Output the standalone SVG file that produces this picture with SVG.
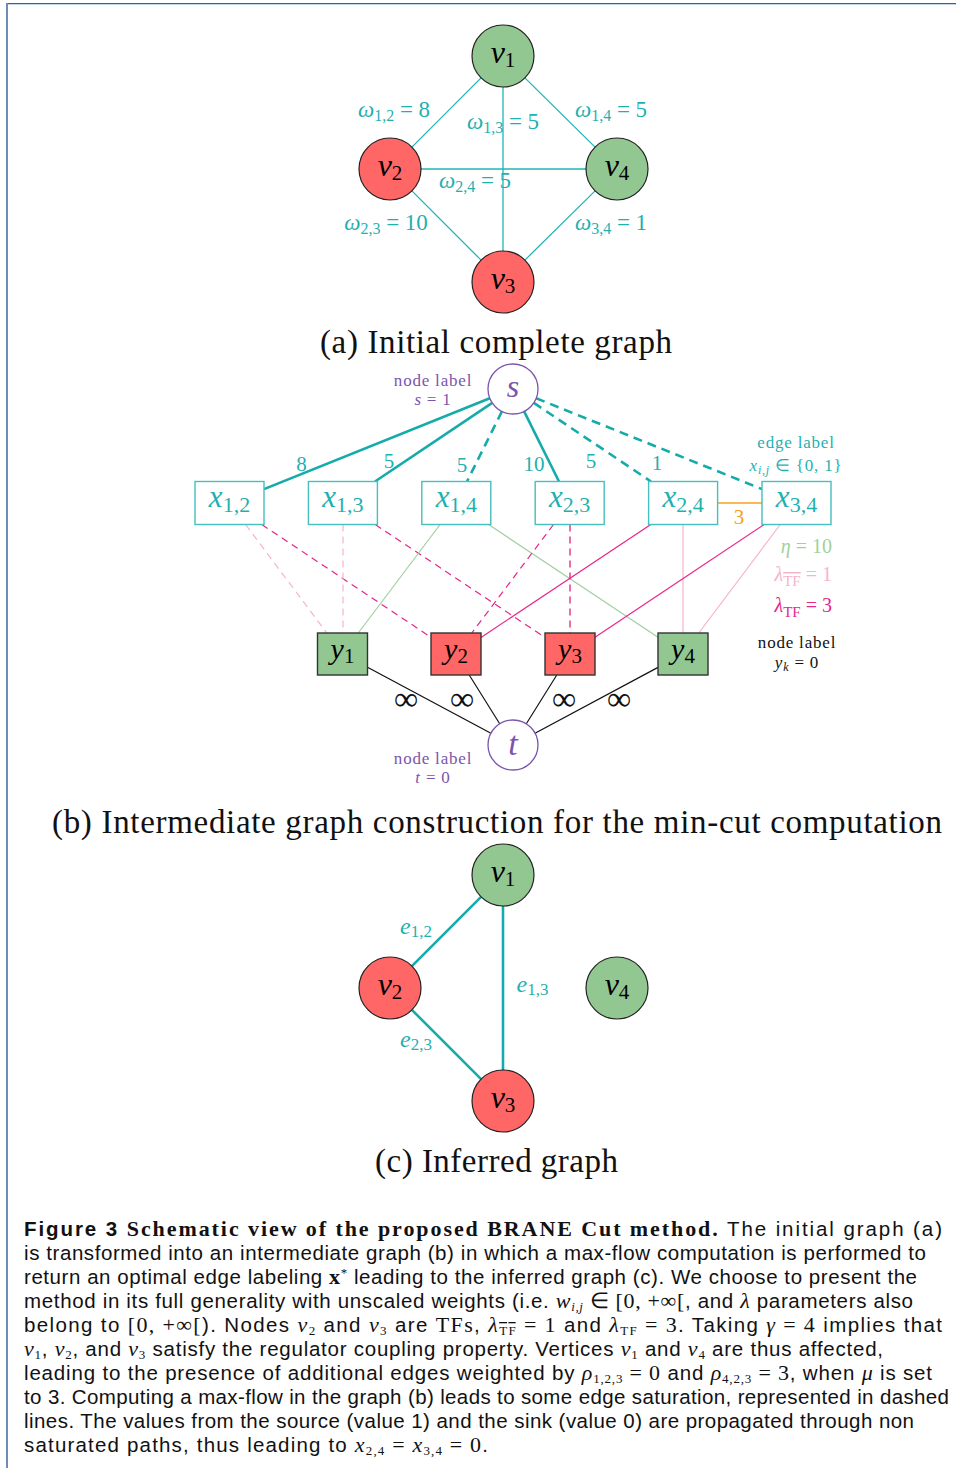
<svg xmlns="http://www.w3.org/2000/svg" width="956" height="1468" viewBox="0 0 956 1468">
<defs>
<style>
.m{font-family:"Liberation Serif","Times New Roman",serif;font-style:italic}
.r{font-family:"Liberation Serif","Times New Roman",serif;font-style:normal}
.up{font-style:normal}
.teal{fill:#1fb0b0}
.pur{fill:#7a55ad}
.gn{fill:#92c792;stroke:#222;stroke-width:1.2}
.rn{fill:#ff6666;stroke:#222;stroke-width:1.2}
.xb{fill:#fff;stroke:#45bfbf;stroke-width:1.4}
.gb{fill:#92c792;stroke:#333;stroke-width:1.4}
.rb{fill:#ff6666;stroke:#333;stroke-width:1.4}
.st{fill:#fff;stroke:#7a55ad;stroke-width:1.3}
.ea{stroke:#1fb5b5;stroke-width:1.3;fill:none}
.ec{stroke:#16abab;stroke-width:2.6;fill:none}
.sd{stroke-dasharray:9 6}
.dd{stroke-dasharray:7 5}
.lp{stroke:#f7b3cb;stroke-width:1.2;fill:none}
.mg{stroke:#e8248a;stroke-width:1.2;fill:none}
.lg{stroke:#9fd09f;stroke-width:1.2;fill:none}
.bk{stroke:#111;stroke-width:1.2;fill:none}
.cap{font-family:"Liberation Sans",Arial,sans-serif;font-size:20.5px;fill:#111}
.ttl{font-family:"Liberation Serif","Times New Roman",serif;font-size:33px;fill:#111}
.lab{font-size:17px;letter-spacing:0.8px}
.sb{font-size:13px}
</style>
</defs>
<rect width="956" height="1468" fill="#fff"/>
<line x1="6" y1="3.5" x2="956" y2="3.5" stroke="#3b5f8c" stroke-width="1"/>
<line x1="8" y1="4.6" x2="956" y2="4.6" stroke="#c0d2e6" stroke-width="1"/>
<rect x="6" y="3" width="2" height="1465" fill="#6f8db4"/>

<!-- (a) connectors -->
<g id="a-edges">
<line class="ea" x1="481.1" y1="77.9" x2="411.9" y2="147.1"/>
<line class="ea" x1="503" y1="87" x2="503" y2="251"/>
<line class="ea" x1="524.9" y1="77.9" x2="595.1" y2="147.1"/>
<line class="ea" x1="421" y1="169" x2="586" y2="169"/>
<line class="ea" x1="411.9" y1="190.9" x2="481.1" y2="260.1"/>
<line class="ea" x1="524.9" y1="260.1" x2="595.1" y2="190.9"/>
</g>
<g id="a-edge-labels" class="m teal" font-size="23" text-anchor="middle">
<text x="394" y="117">ω<tspan class="up" font-size="16" dy="4">1,2</tspan><tspan class="up" dy="-4"> = 8</tspan></text>
<text x="503" y="129">ω<tspan class="up" font-size="16" dy="4">1,3</tspan><tspan class="up" dy="-4"> = 5</tspan></text>
<text x="611" y="117">ω<tspan class="up" font-size="16" dy="4">1,4</tspan><tspan class="up" dy="-4"> = 5</tspan></text>
<text x="475" y="188">ω<tspan class="up" font-size="16" dy="4">2,4</tspan><tspan class="up" dy="-4"> = 5</tspan></text>
<text x="386" y="230">ω<tspan class="up" font-size="16" dy="4">2,3</tspan><tspan class="up" dy="-4"> = 10</tspan></text>
<text x="611" y="230">ω<tspan class="up" font-size="16" dy="4">3,4</tspan><tspan class="up" dy="-4"> = 1</tspan></text>
</g>
<g id="a-v1"><circle class="gn" cx="503" cy="56" r="31"/><text class="m" x="503" y="63" font-size="32" text-anchor="middle">v<tspan class="up" font-size="21" dy="4">1</tspan></text></g>
<g id="a-v2"><circle class="rn" cx="390" cy="169" r="31"/><text class="m" x="390" y="176" font-size="32" text-anchor="middle">v<tspan class="up" font-size="21" dy="4">2</tspan></text></g>
<g id="a-v3"><circle class="rn" cx="503" cy="282" r="31"/><text class="m" x="503" y="289" font-size="32" text-anchor="middle">v<tspan class="up" font-size="21" dy="4">3</tspan></text></g>
<g id="a-v4"><circle class="gn" cx="617" cy="169" r="31"/><text class="m" x="617" y="176" font-size="32" text-anchor="middle">v<tspan class="up" font-size="21" dy="4">4</tspan></text></g>
<text class="ttl" x="496" y="353" text-anchor="middle" textLength="352">(a) Initial complete graph</text>

<!-- (b) connectors -->
<g id="b-edges">
<line class="ec" x1="489.8" y1="398.3" x2="264" y2="489.1"/>
<line class="ec" x1="492.2" y1="402.9" x2="375" y2="481.5"/>
<line class="ec sd" x1="501.9" y1="411.4" x2="467" y2="481.5"/>
<line class="ec" x1="524.1" y1="411.4" x2="559" y2="481.5"/>
<line class="ec sd" x1="533.8" y1="402.9" x2="651" y2="481.5"/>
<line class="ec sd" x1="536.2" y1="398.3" x2="762" y2="489.1"/>
<line x1="717.6" y1="503" x2="762" y2="503" stroke="#f7a21b" stroke-width="1.5"/>
<line class="lp dd" x1="245.6" y1="524.5" x2="326.8" y2="633"/>
<line class="mg dd" x1="261.8" y1="524.5" x2="431" y2="637.3"/>
<line class="lp dd" x1="343" y1="524.5" x2="343" y2="633"/>
<line class="mg dd" x1="375.2" y1="524.5" x2="545" y2="637.4"/>
<line class="lg" x1="440.1" y1="524.5" x2="358.3" y2="633"/>
<line class="lg" x1="488.6" y1="524.5" x2="658" y2="637.3"/>
<line class="mg dd" x1="553.5" y1="524.5" x2="471.8" y2="633"/>
<line class="dd" x1="570" y1="524.5" x2="570" y2="633" stroke="#ee5ca0" stroke-width="1.8"/>
<line class="mg" x1="650.8" y1="524.5" x2="481" y2="637.4"/>
<line class="lp" x1="683" y1="524.5" x2="683" y2="633"/>
<line class="mg" x1="764.2" y1="524.5" x2="595" y2="637.3"/>
<line class="lp" x1="780.3" y1="524.5" x2="698.8" y2="633"/>
<line class="bk" x1="367.5" y1="667.3" x2="490.9" y2="733.2"/>
<line class="bk" x1="469.2" y1="675" x2="499.7" y2="723.8"/>
<line class="bk" x1="556.8" y1="675" x2="526.3" y2="723.8"/>
<line class="bk" x1="658" y1="667.4" x2="535" y2="733.2"/>
</g>
<g id="b-edge-labels" class="r" font-size="21" text-anchor="middle">
<text class="teal" x="301.5" y="470.5">8</text>
<text class="teal" x="389" y="468">5</text>
<text class="teal" x="462" y="472">5</text>
<text class="teal" x="534" y="471">10</text>
<text class="teal" x="591" y="468">5</text>
<text class="teal" x="657" y="470">1</text>
<text x="739" y="524" fill="#f7a21b">3</text>
<text x="406" y="710" font-size="34" fill="#111">∞</text>
<text x="462" y="710" font-size="34" fill="#111">∞</text>
<text x="564" y="710" font-size="34" fill="#111">∞</text>
<text x="619" y="710" font-size="34" fill="#111">∞</text>
</g>
<g id="b-s"><circle class="st" cx="513" cy="389" r="25"/><text class="m pur" x="513" y="397" font-size="32" text-anchor="middle">s</text></g>
<g id="b-s-label" class="r pur lab" text-anchor="middle"><text x="433" y="386">node label</text><text x="433" y="405"><tspan class="m">s</tspan> = 1</text></g>
<g id="b-x12"><rect class="xb" x="195" y="481.5" width="69" height="43"/><text class="m teal" x="229.5" y="507" font-size="31" text-anchor="middle">x<tspan class="up" font-size="22" dy="5">1,2</tspan></text></g>
<g id="b-x13"><rect class="xb" x="308.4" y="481.5" width="69" height="43"/><text class="m teal" x="342.9" y="507" font-size="31" text-anchor="middle">x<tspan class="up" font-size="22" dy="5">1,3</tspan></text></g>
<g id="b-x14"><rect class="xb" x="421.8" y="481.5" width="69" height="43"/><text class="m teal" x="456.3" y="507" font-size="31" text-anchor="middle">x<tspan class="up" font-size="22" dy="5">1,4</tspan></text></g>
<g id="b-x23"><rect class="xb" x="535.2" y="481.5" width="69" height="43"/><text class="m teal" x="569.7" y="507" font-size="31" text-anchor="middle">x<tspan class="up" font-size="22" dy="5">2,3</tspan></text></g>
<g id="b-x24"><rect class="xb" x="648.6" y="481.5" width="69" height="43"/><text class="m teal" x="683.1" y="507" font-size="31" text-anchor="middle">x<tspan class="up" font-size="22" dy="5">2,4</tspan></text></g>
<g id="b-x34"><rect class="xb" x="762" y="481.5" width="69" height="43"/><text class="m teal" x="796.5" y="507" font-size="31" text-anchor="middle">x<tspan class="up" font-size="22" dy="5">3,4</tspan></text></g>
<g id="b-edge-legend" class="r teal lab" text-anchor="middle"><text x="796" y="448">edge label</text><text x="796" y="471"><tspan class="m">x</tspan><tspan class="m" font-size="12" dy="3">i,j</tspan><tspan dy="-3"> ∈ {0, 1}</tspan></text></g>
<g id="b-weights-legend" class="r" font-size="20" text-anchor="end">
<text x="832" y="553" fill="#9fd09f"><tspan class="m">η</tspan> = 10</text>
<text x="832" y="581" fill="#f7b3cb"><tspan class="m">λ</tspan><tspan font-size="15" dy="5" text-decoration="overline">TF</tspan><tspan dy="-5"> = 1</tspan></text>
<text x="832" y="612" fill="#e8248a"><tspan class="m">λ</tspan><tspan font-size="15" dy="5">TF</tspan><tspan dy="-5"> = 3</tspan></text>
</g>
<g id="b-y1"><rect class="gb" x="317.5" y="633" width="50" height="42"/><text class="m" x="342.5" y="659" font-size="30" text-anchor="middle">y<tspan class="up" font-size="21" dy="4">1</tspan></text></g>
<g id="b-y2"><rect class="rb" x="431" y="633" width="50" height="42"/><text class="m" x="456" y="659" font-size="30" text-anchor="middle">y<tspan class="up" font-size="21" dy="4">2</tspan></text></g>
<g id="b-y3"><rect class="rb" x="545" y="633" width="50" height="42"/><text class="m" x="570" y="659" font-size="30" text-anchor="middle">y<tspan class="up" font-size="21" dy="4">3</tspan></text></g>
<g id="b-y4"><rect class="gb" x="658" y="633" width="50" height="42"/><text class="m" x="683" y="659" font-size="30" text-anchor="middle">y<tspan class="up" font-size="21" dy="4">4</tspan></text></g>
<g id="b-y-legend" class="r lab" text-anchor="middle" fill="#111"><text x="797" y="648">node label</text><text x="797" y="668"><tspan class="m">y</tspan><tspan class="m" font-size="12" dy="3">k</tspan><tspan dy="-3"> = 0</tspan></text></g>
<g id="b-t"><circle class="st" cx="513" cy="745" r="25"/><text class="m pur" x="513" y="755" font-size="34" text-anchor="middle">t</text></g>
<g id="b-t-label" class="r pur lab" text-anchor="middle"><text x="433" y="764">node label</text><text x="433" y="783"><tspan class="m">t</tspan> = 0</text></g>
<text class="ttl" x="497" y="833" text-anchor="middle" textLength="890">(b) Intermediate graph construction for the min-cut computation</text>

<!-- (c) connectors -->
<g id="c-edges">
<line class="ec" x1="481.1" y1="896.9" x2="411.9" y2="966.1"/>
<line class="ec" x1="503" y1="906" x2="503" y2="1070"/>
<line class="ec" x1="411.9" y1="1009.9" x2="481.1" y2="1079.1"/>
</g>
<g id="c-edge-labels" class="m teal" font-size="24" text-anchor="middle">
<text x="416" y="934">e<tspan class="up" font-size="17" dy="3">1,2</tspan></text>
<text x="532.5" y="992">e<tspan class="up" font-size="17" dy="3">1,3</tspan></text>
<text x="416" y="1047">e<tspan class="up" font-size="17" dy="3">2,3</tspan></text>
</g>
<g id="c-v1"><circle class="gn" cx="503" cy="875" r="31"/><text class="m" x="503" y="882" font-size="32" text-anchor="middle">v<tspan class="up" font-size="21" dy="4">1</tspan></text></g>
<g id="c-v2"><circle class="rn" cx="390" cy="988" r="31"/><text class="m" x="390" y="995" font-size="32" text-anchor="middle">v<tspan class="up" font-size="21" dy="4">2</tspan></text></g>
<g id="c-v3"><circle class="rn" cx="503" cy="1101" r="31"/><text class="m" x="503" y="1108" font-size="32" text-anchor="middle">v<tspan class="up" font-size="21" dy="4">3</tspan></text></g>
<g id="c-v4"><circle class="gn" cx="617" cy="988" r="31"/><text class="m" x="617" y="995" font-size="32" text-anchor="middle">v<tspan class="up" font-size="21" dy="4">4</tspan></text></g>
<text class="ttl" x="496.5" y="1172" text-anchor="middle" textLength="243">(c) Inferred graph</text>

<!-- caption -->
<g id="caption" class="cap">
<text x="24" y="1236" textLength="918"><tspan font-weight="bold">Figure 3 </tspan><tspan class="r" font-weight="bold" font-size="22">Schematic view of the proposed BRANE Cut method.</tspan> The initial graph (a)</text>
<text x="24" y="1260" textLength="902">is transformed into an intermediate graph (b) in which a max-flow computation is performed to</text>
<text x="24" y="1284" textLength="893">return an optimal edge labeling <tspan class="r" font-weight="bold" font-size="22">x</tspan><tspan class="r sb" dy="-7">*</tspan><tspan dy="7"> leading to the inferred graph (c). We choose to present the</tspan></text>
<text x="24" y="1308" textLength="889">method in its full generality with unscaled weights (i.e. <tspan class="m" font-size="22">w</tspan><tspan class="m sb" dy="3">i,j</tspan><tspan class="r" font-size="22" dy="-3"> ∈ [0, +∞[</tspan>, and <tspan class="m" font-size="22">λ</tspan> parameters also</text>
<text x="24" y="1332" textLength="918">belong to <tspan class="r" font-size="22">[0, +∞[</tspan>). Nodes <tspan class="m" font-size="22">v</tspan><tspan class="r sb" dy="3">2</tspan><tspan dy="-3"> and </tspan><tspan class="m" font-size="22">v</tspan><tspan class="r sb" dy="3">3</tspan><tspan dy="-3"> are </tspan><tspan class="r" font-size="22">TFs</tspan>, <tspan class="m" font-size="22">λ</tspan><tspan class="r sb" dy="3" text-decoration="overline">TF</tspan><tspan class="r" font-size="22" dy="-3"> = 1</tspan> and <tspan class="m" font-size="22">λ</tspan><tspan class="r sb" dy="3">TF</tspan><tspan class="r" font-size="22" dy="-3"> = 3</tspan>. Taking <tspan class="m" font-size="22">γ</tspan><tspan class="r" font-size="22"> = 4</tspan> implies that</text>
<text x="24" y="1356" textLength="859"><tspan class="m" font-size="22">v</tspan><tspan class="r sb" dy="3">1</tspan><tspan dy="-3">, </tspan><tspan class="m" font-size="22">v</tspan><tspan class="r sb" dy="3">2</tspan><tspan dy="-3">, and </tspan><tspan class="m" font-size="22">v</tspan><tspan class="r sb" dy="3">3</tspan><tspan dy="-3"> satisfy the regulator coupling property. Vertices </tspan><tspan class="m" font-size="22">v</tspan><tspan class="r sb" dy="3">1</tspan><tspan dy="-3"> and </tspan><tspan class="m" font-size="22">v</tspan><tspan class="r sb" dy="3">4</tspan><tspan dy="-3"> are thus affected,</tspan></text>
<text x="24" y="1380" textLength="908">leading to the presence of additional edges weighted by <tspan class="m" font-size="22">ρ</tspan><tspan class="r sb" dy="3">1,2,3</tspan><tspan class="r" font-size="22" dy="-3"> = 0</tspan> and <tspan class="m" font-size="22">ρ</tspan><tspan class="r sb" dy="3">4,2,3</tspan><tspan class="r" font-size="22" dy="-3"> = 3</tspan>, when <tspan class="m" font-size="22">μ</tspan> is set</text>
<text x="24" y="1404" textLength="925">to 3. Computing a max-flow in the graph (b) leads to some edge saturation, represented in dashed</text>
<text x="24" y="1428" textLength="890">lines. The values from the source (value 1) and the sink (value 0) are propagated through non</text>
<text x="24" y="1452" textLength="464">saturated paths, thus leading to <tspan class="m" font-size="22">x</tspan><tspan class="r sb" dy="3">2,4</tspan><tspan class="r" font-size="22" dy="-3"> = </tspan><tspan class="m" font-size="22">x</tspan><tspan class="r sb" dy="3">3,4</tspan><tspan class="r" font-size="22" dy="-3"> = 0</tspan>.</text>
</g>
</svg>
